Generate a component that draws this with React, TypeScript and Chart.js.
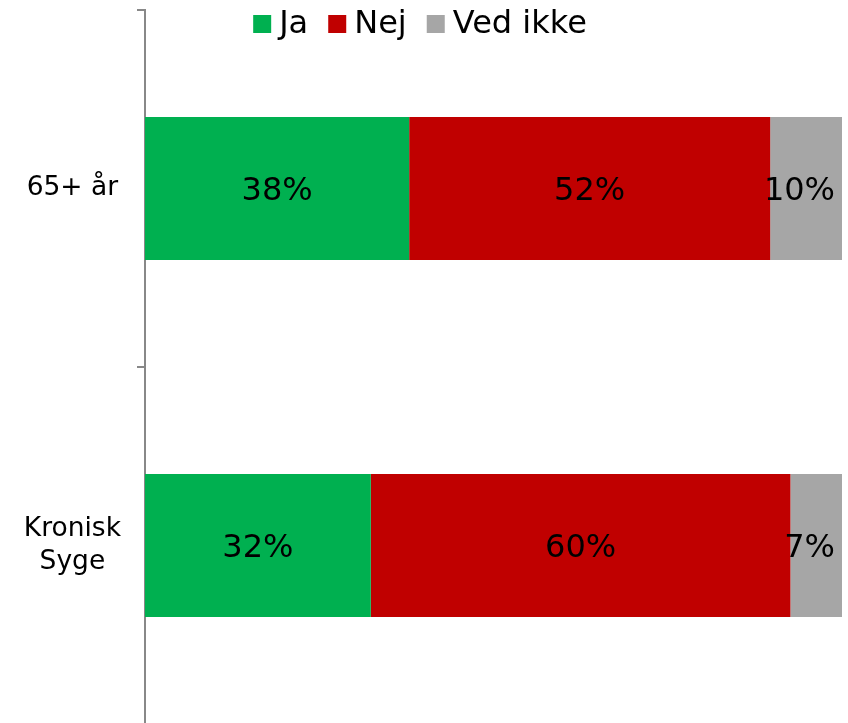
import React, { useEffect, useRef } from "react";
import { Chart, registerables } from "chart.js";

Chart.register(...registerables);

const categories: (string | string[])[] = ["65+ år", ["Kronisk", "Syge"]];
const seriesNames = ["Ja", "Nej", "Ved ikke"];
const jaValues = [37.9, 32.4];
const nejValues = [51.8, 60.2];
const vedIkkeValues = [10.3, 7.4];
const colors = ["#00B050", "#C00000", "#A6A6A6"];

const FONT = "'DejaVu Sans', Verdana, sans-serif";

const labelPlugin = {
  id: "segLabels",
  afterDatasetsDraw(chart: any) {
    const ctx = chart.ctx;
    const area = chart.chartArea;
    ctx.save();
    ctx.font = `32px ${FONT}`;
    ctx.fillStyle = "#000";
    ctx.textBaseline = "middle";
    ctx.textAlign = "left";
    chart.data.datasets.forEach((ds: any, di: number) => {
      const meta = chart.getDatasetMeta(di);
      meta.data.forEach((bar: any, i: number) => {
        const v = ds.data[i];
        const txt = `${Math.round(v)}%`;
        const w = ctx.measureText(txt).width;
        const left = Math.min(bar.base, bar.x);
        const right = Math.max(bar.base, bar.x);
        let x = (left + right) / 2 - w / 2;
        if (x + w > area.right - 7) x = area.right - 7 - w;
        ctx.fillText(txt, x, bar.y + 3);
      });
    });
    ctx.restore();
  },
};

const legendPlugin = {
  id: "customLegend",
  afterDraw(chart: any) {
    const ctx = chart.ctx;
    ctx.save();
    ctx.font = `32px ${FONT}`;
    ctx.textBaseline = "middle";
    ctx.textAlign = "left";
    const box = 18;
    const gapText = 8;
    const gapItem = 20;
    const widths = seriesNames.map((n) => ctx.measureText(n).width);
    const total =
      widths.reduce((a, b) => a + b, 0) +
      seriesNames.length * (box + gapText) +
      (seriesNames.length - 1) * gapItem;
    let x = 420 - total / 2;
    const cy = 24;
    seriesNames.forEach((n, i) => {
      ctx.fillStyle = colors[i];
      ctx.fillRect(x, cy - box / 2, box, box);
      x += box + gapText;
      ctx.fillStyle = "#000";
      ctx.fillText(n, x, cy + 1);
      x += widths[i] + gapItem;
    });
    ctx.restore();
  },
};

export default function App() {
  const ref = useRef<HTMLCanvasElement | null>(null);

  useEffect(() => {
    document.body.style.margin = "0";
    document.body.style.overflow = "hidden";
    if (!ref.current) return;
    const chart = new Chart(ref.current, {
      type: "bar",
      data: {
        labels: categories as any,
        datasets: [
          { label: seriesNames[0], data: jaValues, backgroundColor: colors[0] },
          { label: seriesNames[1], data: nejValues, backgroundColor: colors[1] },
          { label: seriesNames[2], data: vedIkkeValues, backgroundColor: colors[2] },
        ],
      },
      options: {
        indexAxis: "y",
        responsive: false,
        animation: false,
        maintainAspectRatio: false,
        datasets: {
          bar: { categoryPercentage: 1, barPercentage: 0.4, borderWidth: 0 },
        },
        layout: { padding: { left: 0, right: 6, top: 10, bottom: 16 } },
        plugins: {
          legend: { display: false },
          tooltip: { enabled: false },
        },
        scales: {
          x: {
            stacked: true,
            min: 0,
            max: 100,
            display: false,
          },
          y: {
            stacked: true,
            afterFit(scale: any) {
              scale.width = 145;
              scale.paddingTop = 0;
              scale.paddingBottom = 0;
            },
            border: { display: true, color: "#888888", width: 2 },
            grid: {
              display: true,
              offset: true,
              drawOnChartArea: false,
              drawTicks: true,
              tickLength: 8,
              color: "#888888",
              lineWidth: 2,
            },
            ticks: {
              color: "#000",
              font: { family: FONT, size: 26.5, lineHeight: 1.25 },
              crossAlign: "center",
              padding: 16,
            },
          },
        },
      },
      plugins: [labelPlugin, legendPlugin],
    } as any);
    return () => chart.destroy();
  }, []);

  return (
    <div style={{ width: 848, height: 723, overflow: "hidden", position: "relative" }}>
      <canvas ref={ref} width={848} height={740} style={{ display: "block" }} />
    </div>
  );
}
